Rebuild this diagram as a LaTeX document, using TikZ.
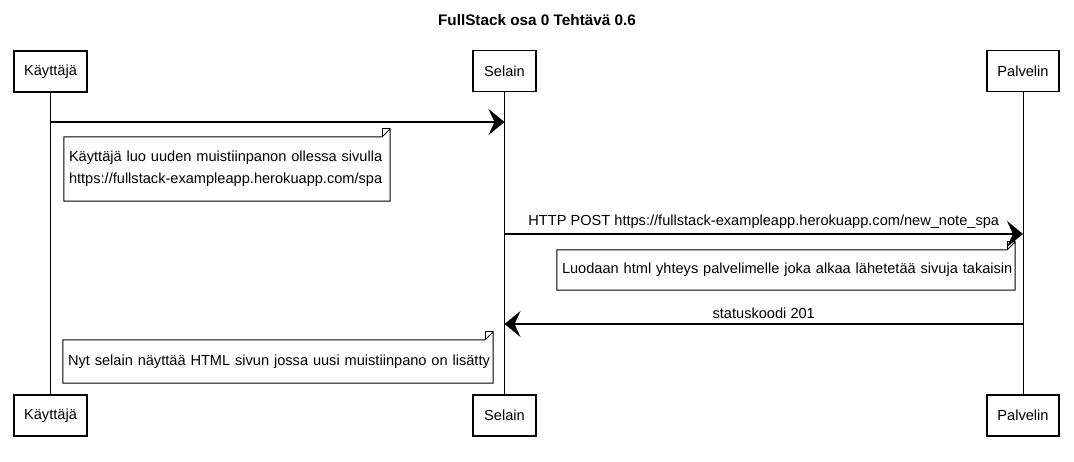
\documentclass[tikz,border=0pt]{standalone}
\usepackage{fontspec}
\setmainfont{Liberation Sans}
\usetikzlibrary{arrows.meta,calc}
\hfuzz=100pt
\begin{document}
\begin{tikzpicture}[x=1pt,y=-1pt,
  font=\fontsize{14.6}{19}\selectfont,
  actor/.style={draw=black,line width=1.1pt,fill=white,inner sep=0pt,minimum height=41pt},
  lifeline/.style={draw=black,line width=0.9pt},
  msg/.style={draw=black,line width=1.1pt,-{Stealth[length=16pt,width=26pt,inset=6pt]}},
  notebox/.style={inner xsep=5pt,inner ysep=0pt,align=left,anchor=center},
  noteline/.style={draw=black,line width=1pt},
  lbl/.style={inner sep=0pt,anchor=base}
]
\useasboundingbox (0,0) rectangle (1074,461);
\fill[white] (0,0) rectangle (1074,461);
% title
\node[inner sep=0pt] (title) at (537,20) {\fontsize{15.3}{18}\selectfont\bfseries FullStack osa 0 Tehtävä 0.6};
% actors
\node[actor,minimum width=73pt] (kt) at (50.5,71.5) {Käyttäjä};
\node[actor,minimum width=63pt] (st) at (504.5,71) {Selain};
\node[actor,minimum width=72pt] (pt) at (1023,71) {Palvelin};
\node[actor,minimum width=73pt] (kb) at (50.5,415.5) {Käyttäjä};
\node[actor,minimum width=63pt] (sb) at (504.5,415.5) {Selain};
\node[actor,minimum width=72pt] (pb) at (1023,415.5) {Palvelin};
% lifelines
\draw[lifeline] (kt.south) -- (kb.north);
\draw[lifeline] (st.south) -- (sb.north);
\draw[lifeline] (pt.south) -- (pb.north);
% message rows
\coordinate (r1) at (0,122);
\coordinate (r2) at (0,234);
\coordinate (r3) at (0,324);
% message 1
\draw[msg] (kt.south |- r1) -- (st.south |- r1);
% message 2
\draw[msg] (st.south |- r2) -- (pt.south |- r2) node[lbl,midway,above=5pt] (l2) {HTTP POST https://fullstack-exampleapp.herokuapp.com/new\_note\_spa};
% message 3
\draw[msg] (pt.south |- r3) -- (st.south |- r3) node[lbl,midway,above=5pt] (l3) {statuskoodi 201};
% notes
\node[notebox,text width=316pt,minimum height=64pt] (n1) at (227,169)
  {\mbox{Käyttäjä luo uuden muistiinpanon ollessa sivulla}\\[3pt]\mbox{https://fullstack-exampleapp.herokuapp.com/spa}};
\node[notebox,text width=448pt,minimum height=40pt] (n2) at (786,270)
  {\mbox{Luodaan html yhteys palvelimelle joka alkaa lähetetää sivuja takaisin}};
\node[notebox,text width=420pt,minimum height=43pt] (n3) at (278,361.5)
  {\mbox{Nyt selain näyttää HTML sivun jossa uusi muistiinpano on lisätty}};
\foreach \n in {n1,n2,n3}{
  \draw[noteline] (\n.north west) -- ([xshift=-8pt]\n.north east) -- ([yshift=8pt]\n.north east) -- (\n.south east) -- (\n.south west) -- cycle;
  \draw[black,line width=0.8pt] ([xshift=-8pt]\n.north east) -- ([xshift=-8pt,yshift=8pt]\n.north east) -- ([yshift=8pt]\n.north east);
}
\end{tikzpicture}
\end{document}
